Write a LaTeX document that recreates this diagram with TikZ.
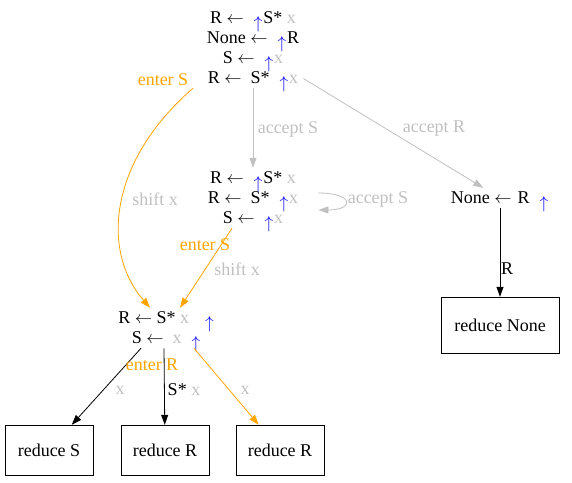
\documentclass[tikz,border=0pt]{standalone}
\usepackage{fontspec}
\setmainfont{Liberation Serif}
\usetikzlibrary{arrows.meta}
\definecolor{edgegray}{HTML}{C0C0C0}
\definecolor{enterorange}{HTML}{FFA500}
\newcommand{\lar}{$\leftarrow$}
\newcommand{\dotup}{\hspace{10pt}\smash{\raisebox{-5pt}{\fontsize{16}{16}\selectfont\textcolor{blue}{$\uparrow$}}}\hspace{1pt}}
\newcommand{\gx}{\textcolor{edgegray}{x}}
\tikzset{
	state/.style={align=center, font=\fontsize{18}{20}\selectfont, inner sep=4pt},
	reduce/.style={draw, minimum width=88pt, minimum height=50pt, font=\fontsize{18}{20}\selectfont},
	edge/.style={-{Triangle[length=10pt,width=7pt]}, line width=0.8pt},
	shiftedge/.style={edge, enterorange},
	acceptedge/.style={edge, edgegray},
	lbl/.style={font=\fontsize{18}{20}\selectfont, text=edgegray, inner sep=0pt},
	enterlbl/.style={font=\fontsize{18}{20}\selectfont, text=enterorange, inner sep=0pt},
}
\begin{document}
\begin{tikzpicture}[x=1pt,y=-1pt]
	\useasboundingbox (0,0) rectangle (572,482);
	\node[state] (s0) at (253,48) {R \lar\dotup S* \gx\\ None \lar\dotup R\\ S \lar\dotup\gx\\ R \lar\hspace{9pt}S*\dotup\gx};
	\node[state] (s1) at (253,198) {R \lar\dotup S* \gx\\ R \lar\hspace{9pt}S*\dotup\gx\\ S \lar\dotup\gx};
	\node[state] (s2) at (166,328) {R \lar\ S* \gx\hspace{6pt}\dotup\\ S \lar\hspace{9pt}\gx\dotup};
	\node[state] (s3) at (500,198) {None \lar\hspace{6pt}R\dotup};
	\node[reduce] (rS) at (49,450) {reduce S};
	\node[reduce] (rR1) at (165,450) {reduce R};
	\node[reduce] (rR2) at (280,450) {reduce R};
	\node[reduce, minimum width=118pt, minimum height=56pt] (rN) at (500,325) {reduce None};

	\draw[acceptedge] (s0) -- (s1);
	\node[lbl] at (288,129) {accept S};
	\draw[acceptedge] (s0) -- (s3);
	\node[lbl] at (434,129) {accept R};
	\draw[shiftedge] ([xshift=-60pt]s0.south) .. controls (110,160) and (100,250) .. ([xshift=-16pt]s2.north);
	\node[enterlbl] at (163,80) {enter S};
	\node[lbl] at (155,199) {shift x};

	\draw[acceptedge] ([xshift=16pt,yshift=5pt]s1.east) .. controls +(36pt,0pt) and +(36pt,0pt) .. ([xshift=16pt,yshift=-12pt]s1.east);
	\node[lbl] at (378,199) {accept S};
	\draw[shiftedge] ([xshift=-21pt]s1.south) -- ([xshift=14pt]s2.north);
	\node[enterlbl] at (205,245) {enter S};
	\node[lbl] at (237,269) {shift x};

	\draw[edge] (s3) -- (rN);
	\node[inner sep=0pt, font=\fontsize{18}{20}\selectfont] at (507,269) {R};

	\draw[edge] ([xshift=-25pt]s2.south) -- (rS);
	\node[lbl] at (120,390) {x};
	\draw[edge] ([xshift=-2pt]s2.south) -- (rR1);
	\node[inner sep=0pt, font=\fontsize{18}{20}\selectfont] at (184,390) {S* \gx};
	\draw[shiftedge] ([xshift=28pt]s2.south) -- (rR2);
	\node[enterlbl] at (152,365) {enter R};
	\node[lbl] at (245,390) {x};
\end{tikzpicture}
\end{document}
